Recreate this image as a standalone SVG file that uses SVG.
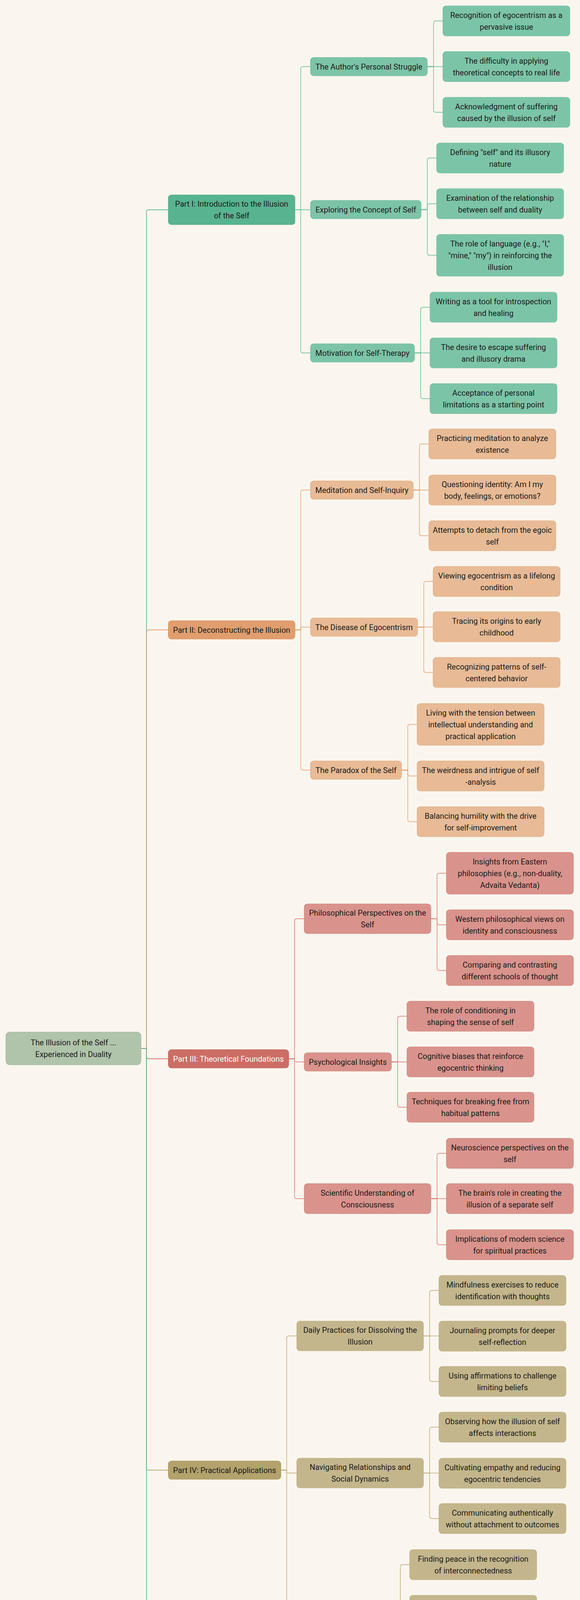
<svg xmlns="http://www.w3.org/2000/svg" width="1485" height="5376" viewBox="0 0 1485 5376">
<style>
text{font-family:Roboto,"Liberation Sans",sans-serif;font-size:20px;fill:#1a1a1a;text-anchor:middle}
rect{stroke-width:1.2}
.link{fill:none;stroke-width:1.8;stroke-opacity:0.8}
.root rect{fill:#b0c4ab;stroke:#a3b89e}
.gD rect{fill:#58b390;stroke:#4ea683}
.gL rect{fill:#7cc4a8;stroke:#6cbb9c}
.oD rect{fill:#e09e6e;stroke:#dc8d55}
.oL rect{fill:#e8bb96;stroke:#e2aa7f}
.rD rect{fill:#cc6e66;stroke:#c45e56}
.rD text{fill:#ffffff}
.rL rect{fill:#d9938c;stroke:#d07f77}
.tD rect{fill:#b3a26c;stroke:#a8955c}
.tL rect{fill:#c4b68c;stroke:#b9a978}
.lgD{stroke:#4caa84}.lgL{stroke:#63ba96}
.loD{stroke:#df8c52}.loL{stroke:#e6a06f}
.lrD{stroke:#cb5e56}.lrL{stroke:#d47b73}
.ltD{stroke:#ad9857}.ltL{stroke:#bda972}
</style>
<rect x="0" y="0" width="1485" height="5376" fill="#faf6ef"/>
<g id="connectors">
<path class="link lgD" d="M361 2684 H375 V543 Q375 537 381 537 H431"/>
<path class="link loD" d="M361 2684 H375 V1618.5 Q375 1612.5 381 1612.5 H431"/>
<path class="link lrD" d="M361 2684 H375 V2704.5 Q375 2710.5 381 2710.5 H431"/>
<path class="link ltD" d="M361 2684 H375 V3757.5 Q375 3763.5 381 3763.5 H431"/>
<path class="link lgD" d="M361 2684 H375 V4826 Q375 4832 381 4832 H431"/>
<path class="link lgL" d="M755 537 H770 V176.5 Q770 170.5 776 170.5 H795"/>
<path class="link lgL" d="M755 537 H795"/>
<path class="link lgL" d="M755 537 H770 V897.5 Q770 903.5 776 903.5 H795"/>
<path class="link loL" d="M755 1612.5 H770 V1260.5 Q770 1254.5 776 1254.5 H795"/>
<path class="link loL" d="M755 1612.5 H770 V1609 Q770 1605.5 773.5 1605.5 H795"/>
<path class="link loL" d="M755 1612.5 H770 V1965.5 Q770 1971.5 776 1971.5 H795"/>
<path class="link lrL" d="M739 2710.5 H754 V2358 Q754 2352 760 2352 H779"/>
<path class="link lrL" d="M739 2710.5 H754 V2714.5 Q754 2718.5 758 2718.5 H779"/>
<path class="link lrL" d="M739 2710.5 H754 V3062.5 Q754 3068.5 760 3068.5 H779"/>
<path class="link ltL" d="M719 3763.5 H734 V3426 Q734 3420 740 3420 H760"/>
<path class="link ltL" d="M719 3763.5 H734 V3767.25 Q734 3771 737.75 3771 H760"/>
<path class="link ltL" d="M719 3763.5 H734 V4115.5 Q734 4121.5 740 4121.5 H760"/>
<path class="link lgL" d="M755 4832 H770 V4479.5 Q770 4473.5 776 4473.5 H795"/>
<path class="link lgL" d="M755 4832 H770 V4828.25 Q770 4824.5 773.75 4824.5 H795"/>
<path class="link lgL" d="M755 4832 H770 V5183.5 Q770 5189.5 776 5189.5 H795"/>
<path class="link lgL" d="M1094 170.5 H1110 V59.5 Q1110 53.5 1116 53.5 H1134"/>
<path class="link lgL" d="M1094 170.5 H1134"/>
<path class="link lgL" d="M1094 170.5 H1110 V281.5 Q1110 287.5 1116 287.5 H1134"/>
<path class="link lgL" d="M1078 536.5 H1094 V410.5 Q1094 404.5 1100 404.5 H1118"/>
<path class="link lgL" d="M1078 536.5 H1094 V527.5 Q1094 521.5 1100 521.5 H1118"/>
<path class="link lgL" d="M1078 536.5 H1094 V647.5 Q1094 653.5 1100 653.5 H1118"/>
<path class="link lgL" d="M1061 903.5 H1077 V792.5 Q1077 786.5 1083 786.5 H1101"/>
<path class="link lgL" d="M1061 903.5 H1101"/>
<path class="link lgL" d="M1061 903.5 H1077 V1014.5 Q1077 1020.5 1083 1020.5 H1101"/>
<path class="link loL" d="M1058 1254.5 H1074 V1142.5 Q1074 1136.5 1080 1136.5 H1098"/>
<path class="link loL" d="M1058 1254.5 H1098"/>
<path class="link loL" d="M1058 1254.5 H1074 V1365.5 Q1074 1371.5 1080 1371.5 H1098"/>
<path class="link loL" d="M1069 1605.5 H1085 V1494.5 Q1085 1488.5 1091 1488.5 H1109"/>
<path class="link loL" d="M1069 1605 H1109"/>
<path class="link loL" d="M1069 1605.5 H1085 V1715.5 Q1085 1721.5 1091 1721.5 H1109"/>
<path class="link loL" d="M1028 1971.5 H1044 V1860.5 Q1044 1854.5 1050 1854.5 H1068"/>
<path class="link loL" d="M1028 1971.5 H1044 V1980.5 Q1044 1986.5 1050 1986.5 H1068"/>
<path class="link loL" d="M1028 1971.5 H1044 V2097.5 Q1044 2103.5 1050 2103.5 H1068"/>
<path class="link lrL" d="M1103 2352 H1119 V2241.5 Q1119 2235.5 1125 2235.5 H1143"/>
<path class="link lrL" d="M1103 2352 H1119 V2361.5 Q1119 2367.5 1125 2367.5 H1143"/>
<path class="link lrL" d="M1103 2352 H1119 V2478.5 Q1119 2484.5 1125 2484.5 H1143"/>
<path class="link lrL" d="M1002 2718.5 H1018 V2607.5 Q1018 2601.5 1024 2601.5 H1042"/>
<path class="link lrL" d="M1002 2718.5 H1042"/>
<path class="link lrL" d="M1002 2718.5 H1018 V2828.5 Q1018 2834.5 1024 2834.5 H1042"/>
<path class="link lrL" d="M1103 3068.5 H1119 V2958.5 Q1119 2952.5 1125 2952.5 H1143"/>
<path class="link lrL" d="M1103 3068.5 H1143"/>
<path class="link lrL" d="M1103 3068.5 H1119 V3180.5 Q1119 3186.5 1125 3186.5 H1143"/>
<path class="link ltL" d="M1084 3420 H1100 V3309.5 Q1100 3303.5 1106 3303.5 H1124"/>
<path class="link ltL" d="M1084 3420.2 H1124"/>
<path class="link ltL" d="M1084 3420 H1100 V3530.5 Q1100 3536.5 1106 3536.5 H1124"/>
<path class="link ltL" d="M1084 3771 H1100 V3659.5 Q1100 3653.5 1106 3653.5 H1124"/>
<path class="link ltL" d="M1084 3771.2 H1124"/>
<path class="link ltL" d="M1084 3771 H1100 V3881.5 Q1100 3887.5 1106 3887.5 H1124"/>
<path class="link ltL" d="M1009 4121.5 H1025 V4011.5 Q1025 4005.5 1031 4005.5 H1049"/>
<path class="link ltL" d="M1009 4122 H1049"/>
<path class="link ltL" d="M1009 4121.5 H1025 V4233.5 Q1025 4239.5 1031 4239.5 H1049"/>
<path class="link lgL" d="M1037 4473.5 H1053 V4361.5 Q1053 4355.5 1059 4355.5 H1077"/>
<path class="link lgL" d="M1037 4473 H1077"/>
<path class="link lgL" d="M1037 4473.5 H1053 V4584.5 Q1053 4590.5 1059 4590.5 H1077"/>
<path class="link lgL" d="M971 4824.5 H987 V4713.5 Q987 4707.5 993 4707.5 H1011"/>
<path class="link lgL" d="M971 4824.5 H1011"/>
<path class="link lgL" d="M971 4824.5 H987 V4934.5 Q987 4940.5 993 4940.5 H1011"/>
<path class="link lgL" d="M952 5189.5 H968 V5063.5 Q968 5057.5 974 5057.5 H992"/>
<path class="link lgL" d="M952 5189.5 H992"/>
<path class="link lgL" d="M952 5189.5 H968 V5315.5 Q968 5321.5 974 5321.5 H992"/>
</g>
<g id="root" class="root"><rect x="15" y="2642" width="346" height="84" rx="10"/><text x="188" y="2676">The Illusion of the Self ...</text><text x="188" y="2706">Experienced in Duality</text></g>
<g id="part1" class="gD"><rect x="431" y="499" width="324" height="76" rx="8"/><text x="593" y="529">Part I: Introduction to the Illusion</text><text x="593" y="559">of the Self</text></g>
<g id="part2" class="oD"><rect x="431" y="1589" width="324" height="47" rx="8"/><text x="593" y="1619.5">Part II: Deconstructing the Illusion</text></g>
<g id="part3" class="rD"><rect x="431" y="2687" width="308" height="47" rx="8"/><text x="585" y="2717.5">Part III: Theoretical Foundations</text></g>
<g id="part4" class="tD"><rect x="431" y="3740" width="288" height="47" rx="8"/><text x="575" y="3770.5">Part IV: Practical Applications</text></g>
<g id="part5" class="gD"><rect x="431" y="4794" width="324" height="76" rx="8"/><text x="593" y="4824">Part V: Reflections and</text><text x="593" y="4854">Conclusion</text></g>
<g id="a1" class="gL"><rect x="795" y="147" width="299" height="47" rx="8"/><text x="944.5" y="177.5">The Author's Personal Struggle</text></g>
<g id="a2" class="gL"><rect x="795" y="513" width="283" height="47" rx="8"/><text x="936.5" y="543.5">Exploring the Concept of Self</text></g>
<g id="a3" class="gL"><rect x="795" y="880" width="266" height="47" rx="8"/><text x="928" y="910.5">Motivation for Self-Therapy</text></g>
<g id="b1" class="oL"><rect x="795" y="1231" width="263" height="47" rx="8"/><text x="926.5" y="1261.5">Meditation and Self-Inquiry</text></g>
<g id="b2" class="oL"><rect x="795" y="1582" width="274" height="47" rx="8"/><text x="932" y="1612.5">The Disease of Egocentrism</text></g>
<g id="b3" class="oL"><rect x="795" y="1948" width="233" height="47" rx="8"/><text x="911.5" y="1978.5">The Paradox of the Self</text></g>
<g id="c1" class="rL"><rect x="779" y="2314" width="324" height="76" rx="8"/><text x="941" y="2344">Philosophical Perspectives on the</text><text x="941" y="2374">Self</text></g>
<g id="c2" class="rL"><rect x="779" y="2695" width="223" height="47" rx="8"/><text x="890.5" y="2725.5">Psychological Insights</text></g>
<g id="c3" class="rL"><rect x="779" y="3030" width="324" height="77" rx="8"/><text x="941" y="3060.5">Scientific Understanding of</text><text x="941" y="3090.5">Consciousness</text></g>
<g id="d1" class="tL"><rect x="760" y="3382" width="324" height="76" rx="8"/><text x="922" y="3412">Daily Practices for Dissolving the</text><text x="922" y="3442">Illusion</text></g>
<g id="d2" class="tL"><rect x="760" y="3733" width="324" height="76" rx="8"/><text x="922" y="3763">Navigating Relationships and</text><text x="922" y="3793">Social Dynamics</text></g>
<g id="d3" class="tL"><rect x="760" y="4098" width="249" height="47" rx="8"/><text x="884.5" y="4128.5">Living Beyond the Illusion</text></g>
<g id="e1" class="gL"><rect x="795" y="4450" width="242" height="47" rx="8"/><text x="916" y="4480.5">Progress in Self-Therapy</text></g>
<g id="e2" class="gL"><rect x="795" y="4801" width="176" height="47" rx="8"/><text x="883" y="4831.5">Lessons Learned</text></g>
<g id="e3" class="gL"><rect x="795" y="5166" width="157" height="47" rx="8"/><text x="873.5" y="5196.5">Final Thoughts</text></g>
<g id="a1-1" class="gL"><rect x="1134" y="15" width="325" height="77" rx="8"/><text x="1296.5" y="45.5">Recognition of egocentrism as a</text><text x="1296.5" y="75.5">pervasive issue</text></g>
<g id="a1-2" class="gL"><rect x="1134" y="132" width="325" height="77" rx="8"/><text x="1296.5" y="162.5">The difficulty in applying</text><text x="1296.5" y="192.5">theoretical concepts to real life</text></g>
<g id="a1-3" class="gL"><rect x="1134" y="249" width="325" height="77" rx="8"/><text x="1296.5" y="279.5">Acknowledgment of suffering</text><text x="1296.5" y="309.5">caused by the illusion of self</text></g>
<g id="a2-1" class="gL"><rect x="1118" y="366" width="325" height="77" rx="8"/><text x="1280.5" y="396.5">Defining "self" and its illusory</text><text x="1280.5" y="426.5">nature</text></g>
<g id="a2-2" class="gL"><rect x="1118" y="483" width="325" height="77" rx="8"/><text x="1280.5" y="513.5">Examination of the relationship</text><text x="1280.5" y="543.5">between self and duality</text></g>
<g id="a2-3" class="gL"><rect x="1118" y="600" width="325" height="107" rx="8"/><text x="1280.5" y="630.5">The role of language (e.g., "I,"</text><text x="1280.5" y="660.5">"mine," "my") in reinforcing the</text><text x="1280.5" y="690.5">illusion</text></g>
<g id="a3-1" class="gL"><rect x="1101" y="748" width="325" height="77" rx="8"/><text x="1263.5" y="778.5">Writing as a tool for introspection</text><text x="1263.5" y="808.5">and healing</text></g>
<g id="a3-2" class="gL"><rect x="1101" y="865" width="325" height="77" rx="8"/><text x="1263.5" y="895.5">The desire to escape suffering</text><text x="1263.5" y="925.5">and illusory drama</text></g>
<g id="a3-3" class="gL"><rect x="1101" y="982" width="325" height="77" rx="8"/><text x="1263.5" y="1012.5">Acceptance of personal</text><text x="1263.5" y="1042.5">limitations as a starting point</text></g>
<g id="b1-1" class="oL"><rect x="1098" y="1098" width="325" height="77" rx="8"/><text x="1260.5" y="1128.5">Practicing meditation to analyze</text><text x="1260.5" y="1158.5">existence</text></g>
<g id="b1-2" class="oL"><rect x="1098" y="1216" width="325" height="77" rx="8"/><text x="1260.5" y="1246.5">Questioning identity: Am I my</text><text x="1260.5" y="1276.5">body, feelings, or emotions?</text></g>
<g id="b1-3" class="oL"><rect x="1098" y="1333" width="325" height="77" rx="8"/><text x="1260.5" y="1363.5">Attempts to detach from the egoic</text><text x="1260.5" y="1393.5">self</text></g>
<g id="b2-1" class="oL"><rect x="1109" y="1450" width="325" height="77" rx="8"/><text x="1271.5" y="1480.5">Viewing egocentrism as a lifelong</text><text x="1271.5" y="1510.5">condition</text></g>
<g id="b2-2" class="oL"><rect x="1109" y="1566" width="325" height="77" rx="8"/><text x="1271.5" y="1596.5">Tracing its origins to early</text><text x="1271.5" y="1626.5">childhood</text></g>
<g id="b2-3" class="oL"><rect x="1109" y="1683" width="325" height="77" rx="8"/><text x="1271.5" y="1713.5">Recognizing patterns of self-</text><text x="1271.5" y="1743.5">centered behavior</text></g>
<g id="b3-1" class="oL"><rect x="1068" y="1801" width="325" height="107" rx="8"/><text x="1230.5" y="1831.5">Living with the tension between</text><text x="1230.5" y="1861.5">intellectual understanding and</text><text x="1230.5" y="1891.5">practical application</text></g>
<g id="b3-2" class="oL"><rect x="1068" y="1948" width="325" height="77" rx="8"/><text x="1230.5" y="1978.5">The weirdness and intrigue of self</text><text x="1230.5" y="2008.5">-analysis</text></g>
<g id="b3-3" class="oL"><rect x="1068" y="2065" width="325" height="77" rx="8"/><text x="1230.5" y="2095.5">Balancing humility with the drive</text><text x="1230.5" y="2125.5">for self-improvement</text></g>
<g id="c1-1" class="rL"><rect x="1143" y="2182" width="325" height="107" rx="8"/><text x="1305.5" y="2212.5">Insights from Eastern</text><text x="1305.5" y="2242.5">philosophies (e.g., non-duality,</text><text x="1305.5" y="2272.5">Advaita Vedanta)</text></g>
<g id="c1-2" class="rL"><rect x="1143" y="2329" width="325" height="77" rx="8"/><text x="1305.5" y="2359.5">Western philosophical views on</text><text x="1305.5" y="2389.5">identity and consciousness</text></g>
<g id="c1-3" class="rL"><rect x="1143" y="2446" width="325" height="77" rx="8"/><text x="1305.5" y="2476.5">Comparing and contrasting</text><text x="1305.5" y="2506.5">different schools of thought</text></g>
<g id="c2-1" class="rL"><rect x="1042" y="2563" width="325" height="77" rx="8"/><text x="1204.5" y="2593.5">The role of conditioning in</text><text x="1204.5" y="2623.5">shaping the sense of self</text></g>
<g id="c2-2" class="rL"><rect x="1042" y="2680" width="325" height="77" rx="8"/><text x="1204.5" y="2710.5">Cognitive biases that reinforce</text><text x="1204.5" y="2740.5">egocentric thinking</text></g>
<g id="c2-3" class="rL"><rect x="1042" y="2796" width="325" height="77" rx="8"/><text x="1204.5" y="2826.5">Techniques for breaking free from</text><text x="1204.5" y="2856.5">habitual patterns</text></g>
<g id="c3-1" class="rL"><rect x="1143" y="2914" width="325" height="77" rx="8"/><text x="1305.5" y="2944.5">Neuroscience perspectives on the</text><text x="1305.5" y="2974.5">self</text></g>
<g id="c3-2" class="rL"><rect x="1143" y="3030" width="325" height="77" rx="8"/><text x="1305.5" y="3060.5">The brain's role in creating the</text><text x="1305.5" y="3090.5">illusion of a separate self</text></g>
<g id="c3-3" class="rL"><rect x="1143" y="3148" width="325" height="77" rx="8"/><text x="1305.5" y="3178.5">Implications of modern science</text><text x="1305.5" y="3208.5">for spiritual practices</text></g>
<g id="d1-1" class="tL"><rect x="1124" y="3265" width="325" height="77" rx="8"/><text x="1286.5" y="3295.5">Mindfulness exercises to reduce</text><text x="1286.5" y="3325.5">identification with thoughts</text></g>
<g id="d1-2" class="tL"><rect x="1124" y="3382" width="325" height="77" rx="8"/><text x="1286.5" y="3412.5">Journaling prompts for deeper</text><text x="1286.5" y="3442.5">self-reflection</text></g>
<g id="d1-3" class="tL"><rect x="1124" y="3498" width="325" height="77" rx="8"/><text x="1286.5" y="3528.5">Using affirmations to challenge</text><text x="1286.5" y="3558.5">limiting beliefs</text></g>
<g id="d2-1" class="tL"><rect x="1124" y="3615" width="325" height="77" rx="8"/><text x="1286.5" y="3645.5">Observing how the illusion of self</text><text x="1286.5" y="3675.5">affects interactions</text></g>
<g id="d2-2" class="tL"><rect x="1124" y="3733" width="325" height="77" rx="8"/><text x="1286.5" y="3763.5">Cultivating empathy and reducing</text><text x="1286.5" y="3793.5">egocentric tendencies</text></g>
<g id="d2-3" class="tL"><rect x="1124" y="3849" width="325" height="77" rx="8"/><text x="1286.5" y="3879.5">Communicating authentically</text><text x="1286.5" y="3909.5">without attachment to outcomes</text></g>
<g id="d3-1" class="tL"><rect x="1049" y="3967" width="325" height="77" rx="8"/><text x="1211.5" y="3997.5">Finding peace in the recognition</text><text x="1211.5" y="4027.5">of interconnectedness</text></g>
<g id="d3-2" class="tL"><rect x="1049" y="4084" width="325" height="77" rx="8"/><text x="1211.5" y="4114.5">Embracing impermanence and</text><text x="1211.5" y="4144.5">uncertainty</text></g>
<g id="d3-3" class="tL"><rect x="1049" y="4201" width="325" height="77" rx="8"/><text x="1211.5" y="4231.5">Developing resilience against</text><text x="1211.5" y="4261.5">societal pressures</text></g>
<g id="e1-1" class="gL"><rect x="1077" y="4317" width="325" height="77" rx="8"/><text x="1239.5" y="4347.5">Documenting changes in</text><text x="1239.5" y="4377.5">perspective over time</text></g>
<g id="e1-2" class="gL"><rect x="1077" y="4434" width="325" height="77" rx="8"/><text x="1239.5" y="4464.5">Celebrating small victories in</text><text x="1239.5" y="4494.5">overcoming egocentrism</text></g>
<g id="e1-3" class="gL"><rect x="1077" y="4552" width="325" height="77" rx="8"/><text x="1239.5" y="4582.5">Remaining open to continued</text><text x="1239.5" y="4612.5">growth</text></g>
<g id="e2-1" class="gL"><rect x="1011" y="4669" width="325" height="77" rx="8"/><text x="1173.5" y="4699.5">Key takeaways from the journey</text><text x="1173.5" y="4729.5">of self-discovery</text></g>
<g id="e2-2" class="gL"><rect x="1011" y="4786" width="325" height="77" rx="8"/><text x="1173.5" y="4816.5">The importance of patience and</text><text x="1173.5" y="4846.5">persistence</text></g>
<g id="e2-3" class="gL"><rect x="1011" y="4902" width="325" height="77" rx="8"/><text x="1173.5" y="4932.5">Gratitude for the process of</text><text x="1173.5" y="4962.5">transformation</text></g>
<g id="e3-1" class="gL"><rect x="992" y="5019" width="325" height="77" rx="8"/><text x="1154.5" y="5049.5">Encouragement for readers to</text><text x="1154.5" y="5079.5">embark on their own journeys</text></g>
<g id="e3-2" class="gL"><rect x="992" y="5136" width="325" height="107" rx="8"/><text x="1154.5" y="5166.5">A reminder that the illusion of self</text><text x="1154.5" y="5196.5">is both a challenge and an</text><text x="1154.5" y="5226.5">opportunity</text></g>
<g id="e3-3" class="gL"><rect x="992" y="5283" width="325" height="77" rx="8"/><text x="1154.5" y="5313.5">Leaving behind a legacy of</text><text x="1154.5" y="5343.5">curiosity and compassion</text></g>
</svg>
